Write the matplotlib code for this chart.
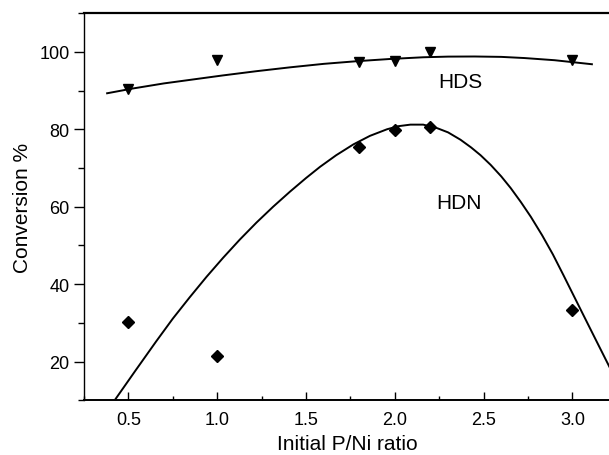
import numpy as np
import matplotlib
matplotlib.use("Agg")
import matplotlib.pyplot as plt
from matplotlib.ticker import MultipleLocator

plt.rcParams['font.family'] = ['Liberation Sans', 'DejaVu Sans']

# P/Ni ratio of the catalysts and measured conversions
pni_ratio = [0.5, 1.0, 1.8, 2.0, 2.2, 3.0]
hds_conv = [90.5, 98.0, 97.3, 97.6, 99.9, 97.8]
hdn_conv = [30.3, 21.5, 75.4, 79.9, 80.6, 33.2]

# trend curves (fitted beforehand), sampled along x
hds_curve_x = [0.38, 0.52, 0.70, 1.03, 1.22, 1.41, 1.60, 1.79, 1.97, 2.16,
               2.30, 2.45, 2.60, 2.73, 2.90, 3.11]
hds_curve_y = [89.3, 90.5, 91.85, 93.9, 95.0, 96.0, 96.9, 97.6, 98.15, 98.6,
               98.77, 98.8, 98.7, 98.4, 97.84, 96.8]
hdn_curve_x = [0.427, 0.54, 0.656, 0.75, 0.845, 0.94, 1.033, 1.127, 1.221,
               1.315, 1.41, 1.50, 1.579, 1.67, 1.767, 1.86, 1.956, 2.02,
               2.088, 2.16, 2.238, 2.30, 2.37, 2.43, 2.483, 2.54, 2.60,
               2.653, 2.71, 2.766, 2.83, 2.89, 2.95, 3.0, 3.06, 3.13, 3.22]
hdn_curve_y = [10.3, 17.7, 25.2, 31.1, 36.6, 41.9, 46.8, 51.5, 55.9,
               60.0, 63.9, 67.4, 70.3, 73.3, 76.1, 78.3, 80.0, 80.8,
               81.2, 81.2, 80.3, 79.2, 77.3, 75.3, 73.3, 70.8, 67.8,
               64.8, 61.2, 57.4, 52.6, 47.7, 42.3, 37.7, 32.2, 25.8, 17.6]

fig = plt.figure(figsize=(6.09, 4.56), dpi=100)
ax = fig.add_axes([0.138, 0.12, 0.866, 0.849])

ax.plot(hds_curve_x, hds_curve_y, color='black', lw=1.4)
ax.plot(hdn_curve_x, hdn_curve_y, color='black', lw=1.4)

ax.plot(pni_ratio, hds_conv, 'v', color='black', ms=7.5, ls='none')
ax.plot(pni_ratio, hdn_conv, 'D', color='black', ms=6.3, ls='none')

ax.text(2.37, 92.3, 'HDS', fontsize=15, ha='center', va='center')
ax.text(2.36, 61.0, 'HDN', fontsize=15, ha='center', va='center')

ax.set_xlim(0.25, 3.22)
ax.set_ylim(10, 110)
ax.xaxis.set_major_locator(MultipleLocator(0.5))
ax.xaxis.set_minor_locator(MultipleLocator(0.25))
ax.yaxis.set_major_locator(MultipleLocator(20))
ax.yaxis.set_minor_locator(MultipleLocator(10))
ax.tick_params(axis='x', which='major', direction='in', length=6, width=1, labelsize=13, pad=8)
ax.tick_params(axis='x', which='minor', direction='in', length=3, width=1)
ax.tick_params(axis='y', which='major', direction='out', length=7, width=1, labelsize=13)
ax.tick_params(axis='y', which='minor', direction='out', length=4, width=1)
ax.spines['right'].set_visible(False)
ax.spines['left'].set_linewidth(1.0)
ax.spines['bottom'].set_linewidth(1.4)
ax.spines['top'].set_linewidth(1.6)

ax.set_xlabel('Initial P/Ni ratio', fontsize=15, labelpad=4)
ax.set_ylabel('Conversion %', fontsize=15, labelpad=5)

fig.savefig('out.png', dpi=100)
